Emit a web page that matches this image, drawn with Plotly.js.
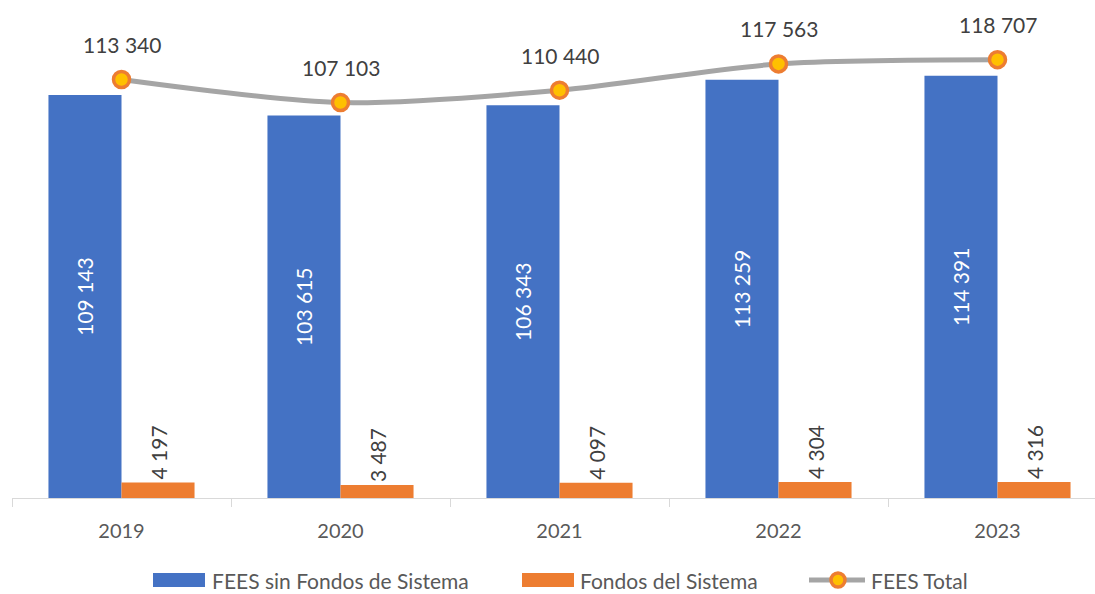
<!DOCTYPE html>
<html><head><meta charset="utf-8">
<script src="https://cdn.plot.ly/plotly-3.0.1.min.js"></script>
<style>html,body{margin:0;padding:0;background:#fff}#chart{width:1095px;height:594px}</style>
</head><body><div id="chart"></div>
<script>
const years = ["2019","2020","2021","2022","2023"];
const feesSinFondos = [109143, 103615, 106343, 113259, 114391];
const fondosSistema = [4197, 3487, 4097, 4304, 4316];
const feesTotal = [113340, 107103, 110440, 117563, 118707];
const seriesNames = ["FEES sin Fondos de Sistema", "Fondos del Sistema", "FEES Total"];

const fmt = v => String(v).replace(/\B(?=(\d{3})+(?!\d))/g, " ");
const FONT = "Lato, 'Open Sans', sans-serif";
const W = 1095, H = 594, L = 12, R = 0, T = 10, B = 96;
const pw = W - L - R, ph = H - T - B;
const px = x => (x - L) / pw;
const py = y => (H - B - y) / ph;

const traces = [
  {type:"bar", x:years, y:feesSinFondos, name:seriesNames[0],
   marker:{color:"#4472c4"}, text:feesSinFondos.map(fmt), textposition:"inside",
   insidetextanchor:"middle", textangle:-90, textfont:{color:"#ffffff", size:21, family:FONT},
   constraintext:"none", hoverinfo:"skip", showlegend:false},
  {type:"bar", x:years, y:fondosSistema, name:seriesNames[1],
   marker:{color:"#ed7d31"}, text:fondosSistema.map(fmt), textposition:"outside",
   textangle:-90, textfont:{color:"#404040", size:21, family:FONT}, cliponaxis:false,
   constraintext:"none", hoverinfo:"skip", showlegend:false},
  {type:"scatter", mode:"lines+markers", x:years, y:feesTotal, name:seriesNames[2],
   line:{color:"#a5a5a5", width:5, shape:"spline", smoothing:0.8},
   marker:{size:16, color:"#ffc000", line:{color:"#ed7d31", width:3.5}},
   cliponaxis:false, hoverinfo:"skip", showlegend:false}
];

const annotations = years.map((yr, i) => ({
  x: i, y: feesTotal[i], xref:"x", yref:"y", text: fmt(feesTotal[i]),
  showarrow:false, yshift:35, font:{size:21, color:"#404040", family:FONT}
}));

// custom legend (layout decoration)
const legY = 580;
const shapes = [
  {type:"rect", xref:"paper", yref:"paper", x0:px(153), x1:px(205), y0:py(legY-7), y1:py(legY+7), fillcolor:"#4472c4", line:{width:0}},
  {type:"rect", xref:"paper", yref:"paper", x0:px(522), x1:px(574), y0:py(legY-7), y1:py(legY+7), fillcolor:"#ed7d31", line:{width:0}},
  {type:"line", xref:"paper", yref:"paper", x0:px(809), x1:px(865), y0:py(legY), y1:py(legY), line:{color:"#a5a5a5", width:5}},
  {type:"circle", xref:"paper", yref:"paper", xsizemode:"pixel", ysizemode:"pixel",
   xanchor:px(838), yanchor:py(legY), x0:-7, x1:7, y0:-7, y1:7,
   fillcolor:"#ffc000", line:{color:"#ed7d31", width:3.5}}
];
const legText = [[seriesNames[0],210],[seriesNames[1],578],[seriesNames[2],869]];
legText.forEach(([t,x]) => annotations.push({
  xref:"paper", yref:"paper", x:px(x), y:py(legY), xanchor:"left", yanchor:"middle",
  text:t, showarrow:false, font:{size:21, color:"#595959", family:FONT}
}));

const layout = {
  width:W, height:H, margin:{l:L, r:R, t:T, b:B, pad:0},
  paper_bgcolor:"#ffffff", plot_bgcolor:"#ffffff",
  barmode:"group", bargap:0.333, bargroupgap:0,
  font:{family:FONT, color:"#595959"},
  xaxis:{type:"category", range:[-0.5, -0.5 + pw/219], tickson:"boundaries",
    ticks:"outside", ticklen:8, tickcolor:"#d9d9d9", tickwidth:1, ticklabelstandoff:15,
    showline:true, linecolor:"#d9d9d9", linewidth:1, showgrid:false,
    tickfont:{size:20, color:"#595959", family:FONT}, fixedrange:true},
  yaxis:{range:[0, ph*270.83], visible:false, showgrid:false, zeroline:false, fixedrange:true},
  showlegend:false, annotations, shapes
};
Plotly.newPlot("chart", traces, layout, {displayModeBar:false, staticPlot:true});
</script></body></html>
